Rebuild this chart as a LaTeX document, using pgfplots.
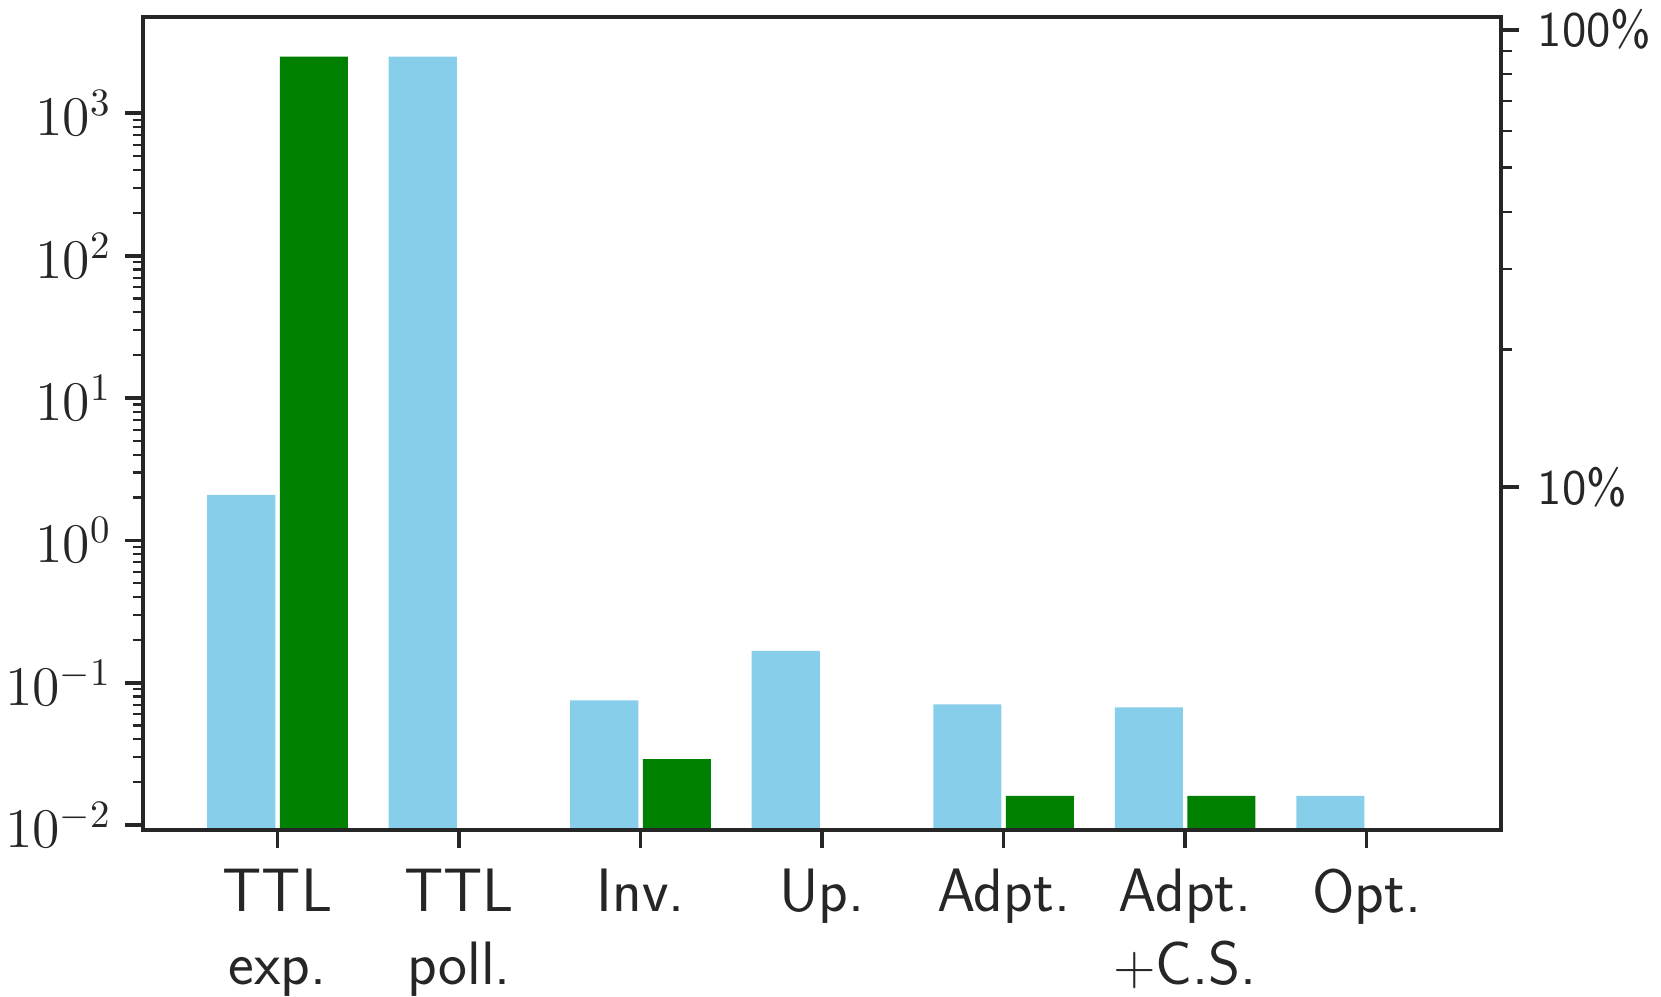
\documentclass[border=0pt]{standalone}
\usepackage{pgfplots}
\pgfplotsset{compat=1.18}
\definecolor{barblue}{HTML}{87CEEB}
\definecolor{bargreen}{HTML}{008000}
\definecolor{axgray}{HTML}{262626}

\begin{document}
\begin{tikzpicture}
\pgfplotsset{
  common/.style={
    scale only axis,
    width=350pt, height=209.6pt,
    xmin=-0.741, xmax=6.741,
    axis line style={-, axgray, line width=1pt},
    major tick length=4.6pt, minor tick length=2.7pt,
    major tick style={axgray, line width=0.95pt},
    minor tick style={axgray, line width=0.55pt},
  }
}
  \begin{axis}[
    common,
    ymode=log,
    ymin=0.009226, ymax=4775,
    log origin=infty,
    xtick={0,1,2,3,4,5,6},
    xticklabels={{TTL\\exp.},{TTL\\poll.},{Inv.},{Up.},{Adpt.},{Adpt.\\$+$C.S.},{Opt.}},
    xtick pos=bottom, ytick pos=left,
    ytick={0.01,0.1,1,10,100,1000},
    tick align=outside,
    axis on top,
    xticklabel style={font=\sffamily\fontsize{15.8}{18.8}\selectfont, align=center, text=axgray, yshift=-1.9pt},
    yticklabel style={font=\fontsize{13.8}{15.5}\selectfont, text=axgray},
  ]
    % light blue series
    \addplot[ybar, bar width=0.375, bar shift=-0.2, fill=barblue, draw=none] coordinates {
      (0,2.09) (1,2500) (2,0.075) (3,0.167) (4,0.0705) (5,0.067) (6,0.016)
    };
    % green series (no bar where the value is zero)
    \addplot[ybar, bar width=0.375, bar shift=0.2, fill=bargreen, draw=none] coordinates {
      (0,2500) (2,0.029) (4,0.016) (5,0.016)
    };
  \end{axis}
  \begin{axis}[
    common,
    ymode=log,
    ymin=0.0178, ymax=1.068,
    axis x line=none,
    axis y line*=right,
    ytick={0.1,1},
    yticklabels={10\%,100\%},
    tick align=outside,
    yticklabel style={font=\sffamily\fontsize{12.8}{15}\selectfont, text=axgray, xshift=1.3pt},
  ]
    \addplot[draw=none] coordinates {(0,0.1)};
  \end{axis}
  \pgfresetboundingbox
  \path (-36.86pt,-43pt) rectangle (391.2pt,213.9pt);
\end{tikzpicture}
\end{document}
